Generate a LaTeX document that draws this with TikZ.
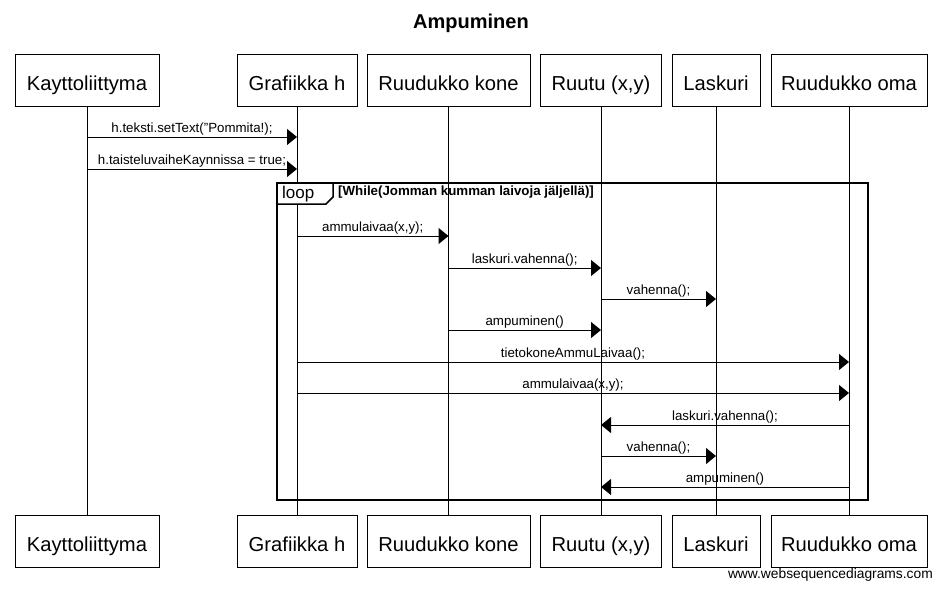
\documentclass[tikz,border=0pt]{standalone}
\usepackage{fontspec}
\setmainfont{Liberation Sans}
\usetikzlibrary{arrows.meta}
\begin{document}
\begin{tikzpicture}[x=1pt,y=-1pt,
  actor/.style={draw, fill=white, line width=1pt, minimum height=52pt, inner sep=0pt, text height=25pt, text depth=4pt, font=\fontsize{20.2}{23}\selectfont},
  msg/.style={line width=1pt, -{Triangle[length=10pt,width=16pt]}},
  lbl/.style={font=\fontsize{13.3}{15}\selectfont, above, inner sep=1.5pt},
  life/.style={line width=1pt}]
\useasboundingbox (0,0) rectangle (943,590);
\node[font=\bfseries\fontsize{20}{23}\selectfont] (title) at (471,23) {Ampuminen};
% participants top
\node[actor, minimum width=144pt] (k1) at (87,80) {Kayttoliittyma};
\node[actor, minimum width=120pt] (g1) at (297,80) {Grafiikka h};
\node[actor, minimum width=163pt] (r1) at (448.5,80) {Ruudukko kone};
\node[actor, minimum width=121pt] (u1) at (601,80) {Ruutu (x,y)};
\node[actor, minimum width=88pt] (l1) at (716,80) {Laskuri};
\node[actor, minimum width=156pt] (o1) at (849,80) {Ruudukko oma};
% participants bottom
\node[actor, minimum width=144pt] (k2) at (87,541) {Kayttoliittyma};
\node[actor, minimum width=120pt] (g2) at (297,541) {Grafiikka h};
\node[actor, minimum width=163pt] (r2) at (448.5,541) {Ruudukko kone};
\node[actor, minimum width=121pt] (u2) at (601,541) {Ruutu (x,y)};
\node[actor, minimum width=88pt] (l2) at (716,541) {Laskuri};
\node[actor, minimum width=156pt] (o2) at (849,541) {Ruudukko oma};
% lifelines
\foreach \a/\b in {k1/k2,g1/g2,r1/r2,u1/u2,l1/l2,o1/o2}
  \draw[life] (\a.south) -- (\b.north);
% loop frame
\draw[line width=2pt] (277,183) rectangle (868,500);
\draw[line width=1.5pt, fill=white] (277,183) -- (333,183) -- (333,197) -- (326,204) -- (277,204) -- cycle;
\node[anchor=west, inner sep=0pt, font=\fontsize{17}{19}\selectfont] (looplbl) at (282,194) {loop};
\node[anchor=west, inner sep=0pt, font=\bfseries\fontsize{13.3}{15}\selectfont] (guard) at (338,192) {[While(Jomman kumman laivoja jäljellä)]};
% messages
\draw[msg] (k1.south |- 0,137) -- node[lbl] {h.teksti.setText("Pommita!);} (g1.south |- 0,137);
\draw[msg] (k1.south |- 0,169) -- node[lbl] {h.taisteluvaiheKaynnissa = true;} (g1.south |- 0,169);
\draw[msg] (g1.south |- 0,236) -- node[lbl] {ammulaivaa(x,y);} (r1.south |- 0,236);
\draw[msg] (r1.south |- 0,268) -- node[lbl] {laskuri.vahenna();} (u1.south |- 0,268);
\draw[msg] (u1.south |- 0,299) -- node[lbl] {vahenna();} (l1.south |- 0,299);
\draw[msg] (r1.south |- 0,330) -- node[lbl] {ampuminen()} (u1.south |- 0,330);
\draw[msg] (g1.south |- 0,362) -- node[lbl] {tietokoneAmmuLaivaa();} (o1.south |- 0,362);
\draw[msg] (g1.south |- 0,393) -- node[lbl] {ammulaivaa(x,y);} (o1.south |- 0,393);
\draw[msg] (o1.south |- 0,425) -- node[lbl] {laskuri.vahenna();} (u1.south |- 0,425);
\draw[msg] (u1.south |- 0,456) -- node[lbl] {vahenna();} (l1.south |- 0,456);
\draw[msg] (o1.south |- 0,487) -- node[lbl] {ampuminen()} (u1.south |- 0,487);
% footer
\node[anchor=east, inner sep=0pt, font=\fontsize{13.8}{15}\selectfont] (footer) at (933,575) {www.websequencediagrams.com};
\end{tikzpicture}
\end{document}
